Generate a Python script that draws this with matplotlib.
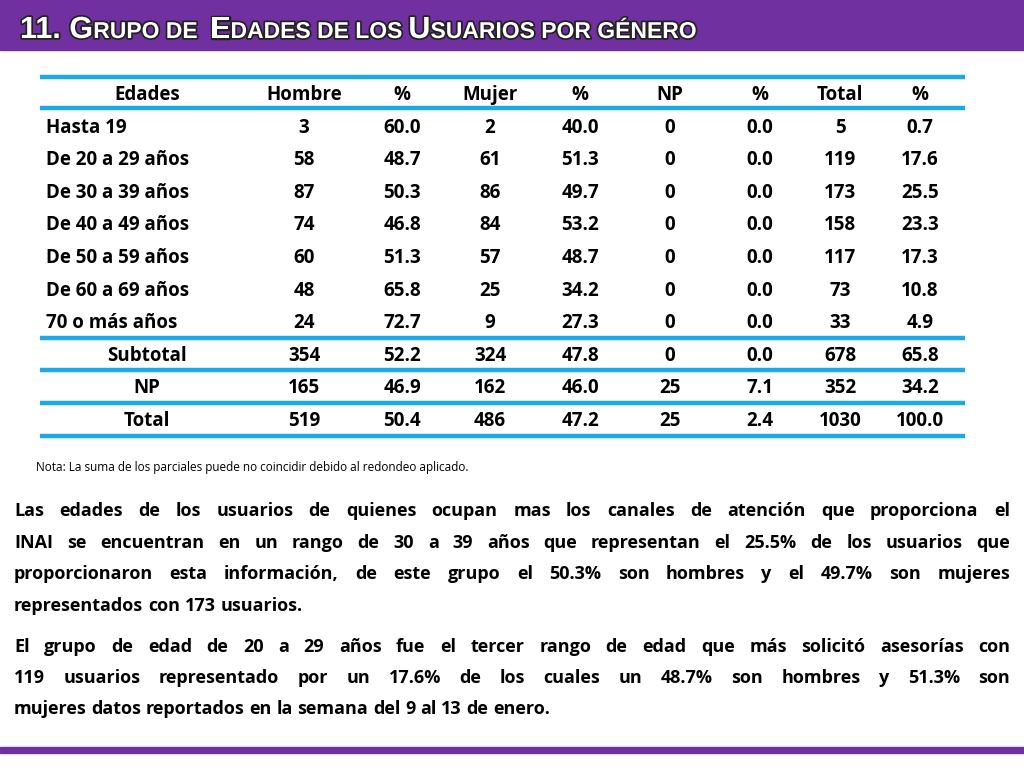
import matplotlib
matplotlib.use("Agg")
import matplotlib.pyplot as plt
import matplotlib.patheffects as pe

headers = ["Edades", "Hombre", "%", "Mujer", "%", "NP", "%", "Total", "%"]
ages = ["Hasta 19", "De 20 a 29 años", "De 30 a 39 años", "De 40 a 49 años",
        "De 50 a 59 años", "De 60 a 69 años", "70 o más años"]
hombre = ["3", "58", "87", "74", "60", "48", "24"]
hombre_pct = ["60.0", "48.7", "50.3", "46.8", "51.3", "65.8", "72.7"]
mujer = ["2", "61", "86", "84", "57", "25", "9"]
mujer_pct = ["40.0", "51.3", "49.7", "53.2", "48.7", "34.2", "27.3"]
np_ = ["0"] * 7
np_pct = ["0.0"] * 7
total = ["5", "119", "173", "158", "117", "73", "33"]
total_pct = ["0.7", "17.6", "25.5", "23.3", "17.3", "10.8", "4.9"]
summary_labels = ["Subtotal", "NP", "Total"]
summary_rows = [
    ["354", "52.2", "324", "47.8", "0", "0.0", "678", "65.8"],
    ["165", "46.9", "162", "46.0", "25", "7.1", "352", "34.2"],
    ["519", "50.4", "486", "47.2", "25", "2.4", "1030", "100.0"],
]
nota = "Nota: La suma de los parciales puede no coincidir debido al redondeo aplicado."
para1_lines = ["Las edades de los usuarios de quienes ocupan mas los canales de atención que proporciona el",
               "INAI se encuentran en un rango de 30 a 39 años que representan el 25.5% de los usuarios que",
               "proporcionaron esta información, de este grupo el 50.3% son hombres y el 49.7% son mujeres",
               "representados con 173 usuarios."]
para2_lines = ["El grupo de edad de 20 a 29 años fue el tercer rango de edad que más solicitó asesorías con",
               "119 usuarios representado por un 17.6% de los cuales un 48.7%  son hombres y 51.3% son",
               "mujeres datos reportados en la semana del 9 al 13 de enero."]

W, H = 1024, 768
fig = plt.figure(figsize=(10.24, 7.68), dpi=100)
ax = fig.add_axes([0, 0, 1, 1])
ax.set_xlim(0, W); ax.set_ylim(H, 0); ax.axis("off")
FONT = "Open Sans"
purple = "#7030A0"
blue = "#1CA9E6"

ax.add_patch(plt.Rectangle((0, 0), W, 50, color=purple))
ax.add_patch(plt.Rectangle((0, 747), W, 6, color=purple))

fig.canvas.draw()
r = fig.canvas.get_renderer()

def width_px(t):
    return t.get_window_extent(renderer=r).width

title_parts = [("11. G", 22), ("RUPO DE  ", 16.5), ("E", 22), ("DADES DE LOS ", 16.5), ("U", 22),
               ("SUARIOS POR GÉNERO", 16.5)]
x = 20
for s, fsz in title_parts:
    t = ax.text(x, 38, s, fontsize=fsz, fontweight="bold", color="white", family="Liberation Sans",
                va="baseline", ha="left",
                path_effects=[pe.withStroke(linewidth=2.5, foreground="#222222")])
    x += width_px(t)

for y in [77, 108, 338, 370, 403, 436]:
    ax.plot([40, 965], [y, y], color=blue, lw=3.2, solid_capstyle="butt")
col_x = [147, 304, 402, 490, 580, 670, 760, 840, 920]
fs = 13.5
def cell(x, y, s, ha="center"):
    ax.text(x, y + 6, s, ha=ha, va="baseline", fontsize=fs, fontweight="bold", family=FONT)
for cx, h in zip(col_x, headers):
    cell(cx, 94, h)
row_y = [127, 159, 192, 224, 257, 290, 322]
cols = [hombre, hombre_pct, mujer, mujer_pct, np_, np_pct, total, total_pct]
for i, y in enumerate(row_y):
    cell(46, y, ages[i], ha="left")
    for cx, c in zip(col_x[1:], cols):
        cell(cx, y, c[i])
for y, lab, vals in zip([355, 387, 420], summary_labels, summary_rows):
    cell(col_x[0], y, lab)
    for cx, v in zip(col_x[1:], vals):
        cell(cx, y, v)

ax.text(36, 467, nota, ha="left", va="center", fontsize=8.5, family=FONT)

def justify(lines, y0, dy, x0=14, x1=1010, fsz=13):
    for k, line in enumerate(lines):
        y = y0 + k * dy + 6
        words = line.split()
        last = k == len(lines) - 1
        ts = [ax.text(0, y, w, fontsize=fsz, fontweight="bold", family=FONT, va="baseline", ha="left")
              for w in words]
        ws = [width_px(t) for t in ts]
        if last or len(words) < 2:
            gap = fsz * 100 / 72 * 0.26
        else:
            gap = (x1 - x0 - sum(ws)) / (len(words) - 1)
        xx = x0
        for t, w in zip(ts, ws):
            t.set_x(xx)
            xx += w + gap

justify(para1_lines, 510, 31.7)
justify(para2_lines, 646, 31)

fig.savefig("out.png", dpi=100)
